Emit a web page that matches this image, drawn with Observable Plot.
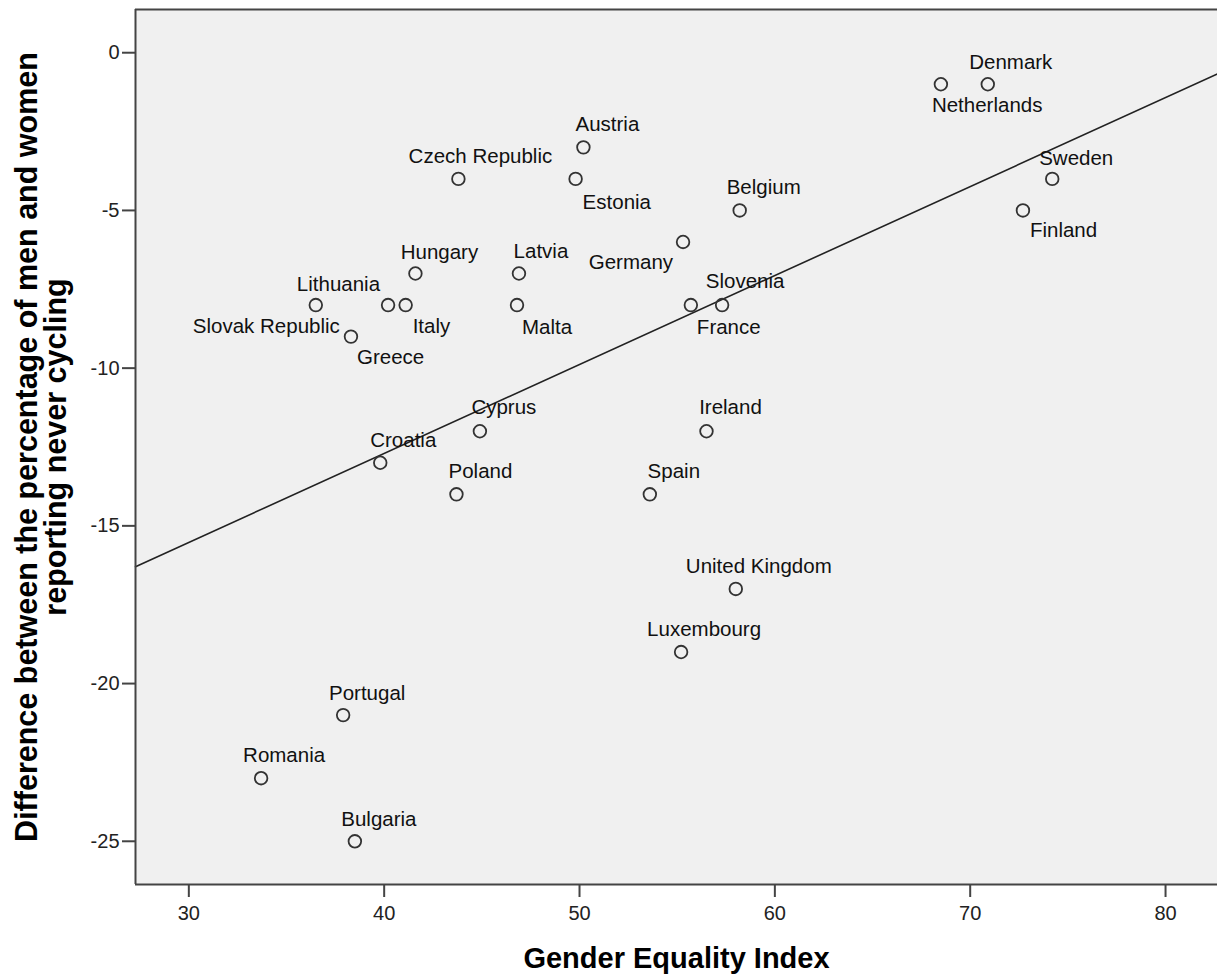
<!DOCTYPE html>
<html>
<head>
<meta charset="utf-8">
<script src="https://cdn.jsdelivr.net/npm/d3@7"></script>
<script src="https://cdn.jsdelivr.net/npm/@observablehq/plot@0.6"></script>
<style>
  html, body { margin: 0; padding: 0; background: #fff; overflow: hidden; }
  #chart svg { display: block; }
</style>
</head>
<body>
<div id="chart"></div>
<script>
// ---- Data ----
const countries = ["Denmark","Netherlands","Sweden","Finland","Austria","Czech Republic","Estonia","Belgium","Germany","Hungary","Latvia","Lithuania","Italy","Slovak Republic","Greece","Malta","France","Slovenia","Cyprus","Ireland","Croatia","Poland","Spain","United Kingdom","Luxembourg","Portugal","Romania","Bulgaria"];
const genderEqualityIndex = [70.9,68.5,74.2,72.7,50.2,43.8,49.8,58.2,55.3,41.6,46.9,40.2,41.1,36.5,38.3,46.8,55.7,57.3,44.9,56.5,39.8,43.7,53.6,58.0,55.2,37.9,33.7,38.5];
const neverCyclingDiff = [-1,-1,-4,-5,-3,-4,-4,-5,-6,-7,-7,-8,-8,-8,-9,-8,-8,-8,-12,-12,-13,-14,-14,-17,-19,-21,-23,-25];

const xTicks = [30, 40, 50, 60, 70, 80];
const yTicks = [0, -5, -10, -15, -20, -25];
const xTitle = "Gender Equality Index";
const yTitle = "Difference between the percentage of men and women\nreporting never cycling";

// ---- Label placement (styling, per point) ----
const labelAnchor = ["middle","start","middle","start","middle","middle","start","middle","end","middle","middle","end","start","end","start","start","start","middle","middle","middle","middle","middle","middle","middle","middle","middle","middle","middle"];
const labelDx = [23,-9,24,7,24,22,7,24,-10,24,22,-8,7,24,6,5,6,23,24,24,23,24,24,23,23,24,23,24];
const labelDy = [-15,28,-14,27,-16,-16,30,-16,27,-15,-16,-14,28,28,27,29,29,-17,-17,-17,-16,-16,-16,-16,-16,-15,-16,-15];

// ---- Scales ----
const xDomain = [27.27, 82.66];
const yDomain = [-26.37, 1.37];

const idx = d3.range(countries.length);

// Linear (OLS) fit line across the whole x range
const mx = d3.mean(genderEqualityIndex), my = d3.mean(neverCyclingDiff);
const sxy = d3.sum(idx, i => (genderEqualityIndex[i] - mx) * (neverCyclingDiff[i] - my));
const sxx = d3.sum(idx, i => (genderEqualityIndex[i] - mx) ** 2);
const slope = sxy / sxx, intercept = my - slope * mx;
const fitLine = xDomain.map(x => ({x, y: intercept + slope * x}));

const font = "'Liberation Sans', Arial, sans-serif";
const fmt = d => `${d}`;

const labelMarks = idx.map(i => Plot.text([i], {
  x: j => genderEqualityIndex[j],
  y: j => neverCyclingDiff[j],
  text: j => countries[j],
  textAnchor: labelAnchor[i],
  lineAnchor: "bottom",
  dx: labelDx[i],
  dy: labelDy[i],
  fontSize: 20.5,
  fill: "#111"
}));

const chart = Plot.plot({
  width: 1217,
  height: 979,
  marginLeft: 135,
  marginRight: 0,
  marginTop: 9,
  marginBottom: 95,
  style: {fontFamily: font, background: "#fff", overflow: "visible"},
  x: {domain: xDomain, label: null},
  y: {domain: yDomain, label: null},
  marks: [
    Plot.frame({fill: "#f0f0f0", stroke: "none"}),
    Plot.line(fitLine, {x: "x", y: "y", stroke: "#222", strokeWidth: 1.6}),
    Plot.dot(idx, {x: i => genderEqualityIndex[i], y: i => neverCyclingDiff[i], r: 6.3, stroke: "#333", strokeWidth: 1.8, fill: "none"}),
    ...labelMarks,
    Plot.ruleX([xDomain[0]], {stroke: "#444", strokeWidth: 2}),
    Plot.ruleY([yDomain[0]], {stroke: "#444", strokeWidth: 2}),
    Plot.ruleY([yDomain[1]], {stroke: "#444", strokeWidth: 2}),
    Plot.axisX({ticks: xTicks, tickFormat: fmt, tickSize: 13, tickPadding: 8, fontSize: 20, stroke: "#444", strokeWidth: 2, fill: "#222", label: null}),
    Plot.axisY({ticks: yTicks, tickFormat: fmt, tickSize: 13, tickPadding: 3, fontSize: 20, stroke: "#444", strokeWidth: 2, fill: "#222", label: null}),
    Plot.text([xTitle], {frameAnchor: "bottom", textAnchor: "middle", lineAnchor: "bottom", dy: 83, fontSize: 29, fontWeight: "bold", fill: "#000"}),
    Plot.text([yTitle], {frameAnchor: "left", textAnchor: "middle", rotate: -90, lineAnchor: "middle", dx: -93, fontSize: 30.5, lineHeight: 0.92, fontWeight: "bold", fill: "#000"})
  ]
});
document.getElementById("chart").appendChild(chart);
</script>
</body>
</html>
